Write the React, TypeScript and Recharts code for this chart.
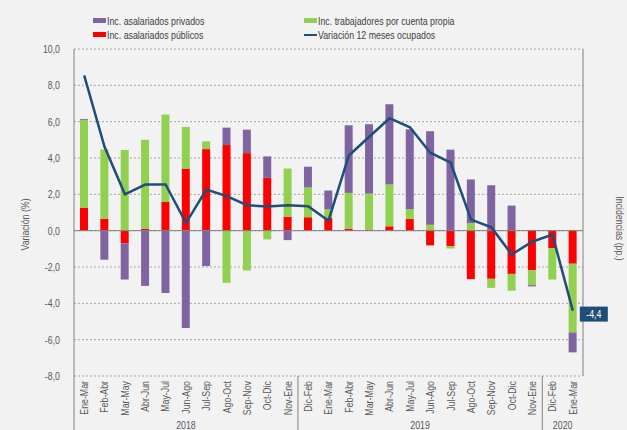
import React from 'react';
import { ComposedChart, Bar, Line, XAxis, YAxis, CartesianGrid, ReferenceLine, LabelList } from 'recharts';

const categories = ['Ene-Mar','Feb-Abr','Mar-May','Abr-Jun','May-Jul','Jun-Ago','Jul-Sep','Ago-Oct','Sep-Nov','Oct-Dic','Nov-Ene','Dic-Feb','Ene-Mar','Feb-Abr','Mar-May','Abr-Jun','May-Jul','Jun-Ago','Jul-Sep','Ago-Oct','Sep-Nov','Oct-Dic','Nov-Ene','Dic-Feb','Ene-Mar'];
const yearLabels = ['2018', '2019', '2020'];
const yearCounts = [11, 12, 2];

const publicos = [1.25,0.66,-0.70,0.11,1.58,3.42,4.49,4.71,4.27,2.91,0.77,0.74,0.70,0.11,0.06,0.24,0.64,-0.81,-0.85,-2.67,-2.65,-2.38,-2.17,-0.96,-1.82];
const cuentaPropia = [4.85,3.81,4.44,4.89,4.81,2.29,0.43,-2.87,-2.19,-0.48,2.65,1.64,0.48,1.97,1.98,2.30,0.54,0.33,-0.13,0.41,-0.50,-0.93,-0.83,-1.73,-3.78];
const privados = [0.05,-1.60,-1.99,-3.04,-3.43,-5.36,-1.95,0.96,1.29,1.18,-0.52,1.14,1.03,3.72,3.82,4.42,4.40,5.14,4.46,2.41,2.50,1.38,-0.07,0,-1.10];
const variacion = [8.55,4.62,2.0,2.54,2.54,0.42,2.26,1.9,1.4,1.33,1.4,1.34,0.55,4.14,5.17,6.19,5.69,4.29,3.74,0.61,0.18,-1.31,-0.61,-0.22,-4.4];

const yTicks = [-8, -6, -4, -2, 0, 2, 4, 6, 8, 10];

const data = categories.map((c, i) => ({
  idx: i,
  cat: c,
  publicos: publicos[i],
  propia: cuentaPropia[i],
  privados: privados[i],
  variacion: variacion[i],
}));

const W = 627;
const H = 430;
const LEFT_W = 74;
const RIGHT_W = 44;
const TOP = 49;
const XAXIS_H = 54;
const PLOT_W = W - LEFT_W - RIGHT_W;
const BW = PLOT_W / categories.length;
const SX = 0.8;

const FONT = "'Liberation Sans', Arial, sans-serif";
const TXT = '#595959';

const groupStart: Record<number, number> = {};
{
  let s = 0;
  yearCounts.forEach((n, g) => { groupStart[s] = g; s += n; });
}

const fmt = (v: number) => v.toFixed(1).replace('.', ',');

function SText({ x, y, angle = 0, anchor = 'middle', fill = TXT, size = 11, children }: any) {
  return (
    <text
      transform={`translate(${x},${y}) rotate(${angle}) scale(${SX},1)`}
      x={0}
      y={0}
      dy="0.35em"
      textAnchor={anchor}
      fontSize={size}
      fontFamily={FONT}
      fill={fill}
    >
      {children}
    </text>
  );
}

function CatTick(props: any) {
  const { x, y, payload } = props;
  const i = Number(payload.value);
  const g = groupStart[i];
  return (
    <g>
      <SText x={x} y={y + 5} angle={-90} anchor="end">{categories[i]}</SText>
      {g !== undefined && (
        <>
          <line x1={x - BW / 2} x2={x - BW / 2} y1={y} y2={H} stroke="#808080" strokeWidth={1} />
          <SText x={x - BW / 2 + (yearCounts[g] * BW) / 2} y={y + 49}>{yearLabels[g]}</SText>
        </>
      )}
    </g>
  );
}

function YTick(props: any) {
  const { x, y, payload, textAnchor } = props;
  return <SText x={x} y={y} anchor={textAnchor}>{fmt(Number(payload.value))}</SText>;
}

function LeftLabel(props: any) {
  const vb = props.viewBox;
  return <SText x={25} y={vb.y + vb.height / 2 + 12} angle={-90}>Variación (%)</SText>;
}

function RightLabel(props: any) {
  const vb = props.viewBox;
  return <SText x={vb.x + vb.width - 7} y={vb.y + vb.height / 2 + 16} angle={90}>Incidencias (pp.)</SText>;
}

function LastLabel(props: any) {
  const { x, y, index, value } = props;
  if (index !== variacion.length - 1) return null;
  return (
    <g>
      <rect x={x + 7} y={y - 4} width={28} height={15} fill="#1f4e79" />
      <SText x={x + 21} y={y + 4} fill="#ffffff">{fmt(value)}</SText>
    </g>
  );
}

const legendItems = [
  { label: 'Inc. asalariados privados', color: '#8064a2', type: 'box', left: 93, top: 14 },
  { label: 'Inc. trabajadores por cuenta propia', color: '#92d050', type: 'box', left: 304, top: 14 },
  { label: 'Inc. asalariados públicos', color: '#ff0000', type: 'box', left: 93, top: 28 },
  { label: 'Variación 12 meses ocupados', color: '#1f4e79', type: 'line', left: 304, top: 28 },
];

export default function App() {
  return (
    <div style={{ position: 'absolute', left: 0, top: 0, width: W, height: H, background: '#f2f2f2', overflow: 'hidden' }}>
      {legendItems.map((it) => (
        <div
          key={it.label}
          style={{
            position: 'absolute',
            left: it.left,
            top: it.top,
            height: 13,
            display: 'flex',
            alignItems: 'center',
            fontFamily: FONT,
            fontSize: 11,
            color: '#404040',
            whiteSpace: 'nowrap',
          }}
        >
          <span
            style={{
              display: 'inline-block',
              width: 13,
              height: it.type === 'box' ? 5 : 2,
              background: it.color,
              marginRight: 1,
            }}
          />
          <span style={{ display: 'inline-block', transform: `scaleX(${SX})`, transformOrigin: 'left center' }}>
            {it.label}
          </span>
        </div>
      ))}
      <ComposedChart
        width={W}
        height={H}
        data={data}
        margin={{ top: TOP, right: 0, bottom: 0, left: 0 }}
        stackOffset="sign"
        barSize={8}
        style={{ position: 'absolute', left: 0, top: 0 }}
      >
        <CartesianGrid yAxisId="left" vertical={false} stroke="#a6a6a6" strokeDasharray="2 2" />
        <XAxis
          dataKey="idx"
          type="category"
          height={XAXIS_H}
          interval={0}
          axisLine={false}
          tickLine={false}
          tickSize={0}
          tickMargin={0}
          tick={<CatTick />}
        />
        <YAxis
          yAxisId="left"
          orientation="left"
          width={LEFT_W}
          domain={[-8, 10]}
          ticks={yTicks}
          interval={0}
          axisLine={{ stroke: '#808080' }}
          tickLine={false}
          tickSize={0}
          tickMargin={14}
          tick={<YTick />}
          label={<LeftLabel />}
        />
        <YAxis
          yAxisId="right"
          orientation="right"
          width={RIGHT_W}
          domain={[-8, 10]}
          ticks={yTicks}
          interval={0}
          axisLine={{ stroke: '#808080' }}
          tickLine={false}
          tickSize={0}
          tickMargin={10}
          tick={<YTick />}
          label={<RightLabel />}
        />
        <ReferenceLine yAxisId="left" y={0} stroke="#808080" strokeWidth={1} />
        <Bar yAxisId="left" dataKey="publicos" stackId="a" fill="#ff0000" isAnimationActive={false} />
        <Bar yAxisId="left" dataKey="propia" stackId="a" fill="#92d050" isAnimationActive={false} />
        <Bar yAxisId="left" dataKey="privados" stackId="a" fill="#8064a2" isAnimationActive={false} />
        <Line
          yAxisId="left"
          dataKey="variacion"
          type="linear"
          stroke="#1f4e79"
          strokeWidth={2.5}
          dot={false}
          activeDot={false}
          isAnimationActive={false}
        >
          <LabelList dataKey="variacion" content={<LastLabel />} />
        </Line>
      </ComposedChart>
    </div>
  );
}
